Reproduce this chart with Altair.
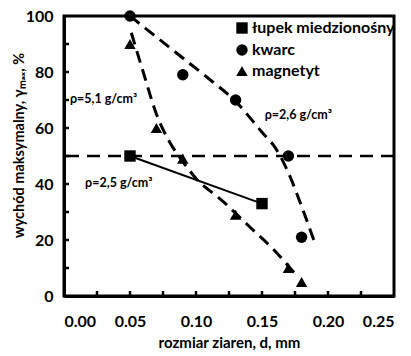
import altair as alt
import pandas as pd

FONT = "Lato"

series = ["łupek miedzionośny", "kwarc", "magnetyt"]
shapes = ["square", "circle", "triangle-up"]

lupek_d = [0.05, 0.15]
lupek_y = [50, 33]
kwarc_d = [0.05, 0.09, 0.13, 0.17, 0.18]
kwarc_y = [100, 79, 70, 50, 21]
magnetyt_d = [0.05, 0.07, 0.09, 0.13, 0.17, 0.18]
magnetyt_y = [90, 60, 49, 29, 10, 5]

# dashed trend curves
kwarc_fit_d = [0.05, 0.07, 0.09, 0.11, 0.13, 0.15, 0.16, 0.17, 0.18, 0.19]
kwarc_fit_y = [100, 92.5, 85, 77.5, 69.5, 58.5, 53, 44, 32, 19]
magnetyt_fit_d = [0.051, 0.06, 0.07, 0.08, 0.09, 0.10, 0.12, 0.14, 0.16, 0.175]
magnetyt_fit_y = [94, 80, 65, 55, 48, 42, 34, 25, 16, 8]

ref_level = [50]

x_labels = [0.0, 0.05, 0.10, 0.15, 0.20, 0.25]
x_minor = [0.025, 0.05, 0.075, 0.10, 0.125, 0.15, 0.175, 0.20, 0.225]
y_labels = [0, 20, 40, 60, 80, 100]
y_minor = [10, 20, 30, 40, 50, 60, 70, 80, 90]

notes = ["ρ=5,1 g/cm³", "ρ=2,6 g/cm³", "ρ=2,5 g/cm³"]
note_d = [0.0045, 0.152, 0.016]
note_y = [70.5, 64.5, 40.5]

pts = pd.concat([
    pd.DataFrame({"d": lupek_d, "y": lupek_y, "series": series[0]}),
    pd.DataFrame({"d": kwarc_d, "y": kwarc_y, "series": series[1]}),
    pd.DataFrame({"d": magnetyt_d, "y": magnetyt_y, "series": series[2]}),
])
lupek_df = pd.DataFrame({"d": lupek_d, "y": lupek_y})
fits = pd.concat([
    pd.DataFrame({"d": kwarc_fit_d, "y": kwarc_fit_y, "s": "kwarc"}),
    pd.DataFrame({"d": magnetyt_fit_d, "y": magnetyt_fit_y, "s": "magnetyt"}),
])
ref_df = pd.DataFrame({"y": ref_level})
notes_df = pd.DataFrame({"d": note_d, "y": note_y, "t": notes})
xtick_df = pd.DataFrame({"d": x_minor})
ytick_df = pd.DataFrame({"y": y_minor})

xs = alt.Scale(domain=[0, 0.25], nice=False, zero=False)
ys = alt.Scale(domain=[0, 100], nice=False)

x_axis = alt.Axis(values=x_labels, format=".2f", ticks=False, grid=False,
                  domainColor="black", domainWidth=3, labelFont=FONT,
                  labelFontWeight="bold", labelFontSize=16, labelColor="black",
                  labelPadding=17, title="rozmiar ziaren, d, mm",
                  titleFont=FONT, titleFontWeight="bold", titleFontSize=15,
                  titleColor="black", titleX=165, titleY=46,
                  titleBaseline="middle", titleAlign="center")
y_axis = alt.Axis(values=y_labels, ticks=False, grid=False,
                  domainColor="black", domainWidth=3, labelFont=FONT,
                  labelFontWeight="bold", labelFontSize=16, labelColor="black",
                  labelPadding=11, title="wychód maksymalny, γₘₐₓ, %",
                  titleFont=FONT, titleFontWeight="bold", titleFontSize=14.5,
                  titleColor="black", titleX=-45, titleY=129, titleAngle=270,
                  titleBaseline="middle", titleAlign="center")

points = alt.Chart(pts).mark_point(filled=True, opacity=1, color="black", size=130).encode(
    x=alt.X("d:Q", scale=xs, axis=x_axis),
    y=alt.Y("y:Q", scale=ys, axis=y_axis),
    shape=alt.Shape("series:N", scale=alt.Scale(domain=series, range=shapes),
                    legend=alt.Legend(title=None, orient="none", legendX=170, legendY=4,
                                      labelFont=FONT, labelFontWeight="bold",
                                      labelFontSize=16, labelColor="black",
                                      symbolFillColor="black", symbolStrokeColor="black",
                                      symbolSize=130, rowPadding=4, labelOffset=2)),
)

lupek_line = alt.Chart(lupek_df).mark_line(color="black", strokeWidth=2).encode(
    x=alt.X("d:Q", scale=xs), y=alt.Y("y:Q", scale=ys))

fit_lines = alt.Chart(fits).mark_line(color="black", strokeWidth=3, strokeDash=[12, 7],
                                      interpolate="monotone").encode(
    x=alt.X("d:Q", scale=xs), y=alt.Y("y:Q", scale=ys), detail="s:N")

ref_rule = alt.Chart(ref_df).mark_rule(color="black", strokeWidth=2.5,
                                       strokeDash=[13, 8]).encode(
    y=alt.Y("y:Q", scale=ys))

note_text = alt.Chart(notes_df).mark_text(align="left", baseline="middle", font=FONT,
                                          fontWeight="bold", fontSize=12.5,
                                          color="black").encode(
    x=alt.X("d:Q", scale=xs), y=alt.Y("y:Q", scale=ys), text="t:N")

# small inward tick marks along the bottom and left edges
xticks = alt.Chart(xtick_df).mark_rule(color="black", strokeWidth=2.5).encode(
    x=alt.X("d:Q", scale=xs), y=alt.value(280), y2=alt.value(275))
yticks = alt.Chart(ytick_df).mark_rule(color="black", strokeWidth=2.5).encode(
    y=alt.Y("y:Q", scale=ys), x=alt.value(0), x2=alt.value(5))

chart = alt.layer(points, lupek_line, fit_lines, ref_rule, note_text, xticks, yticks).properties(
    width=330, height=280, autosize="none",
    padding={"left": 56, "top": 8, "right": 9, "bottom": 58},
).configure_view(stroke="black", strokeWidth=3)

chart.save("out.html", embed_options={"renderer": "svg", "actions": False})
